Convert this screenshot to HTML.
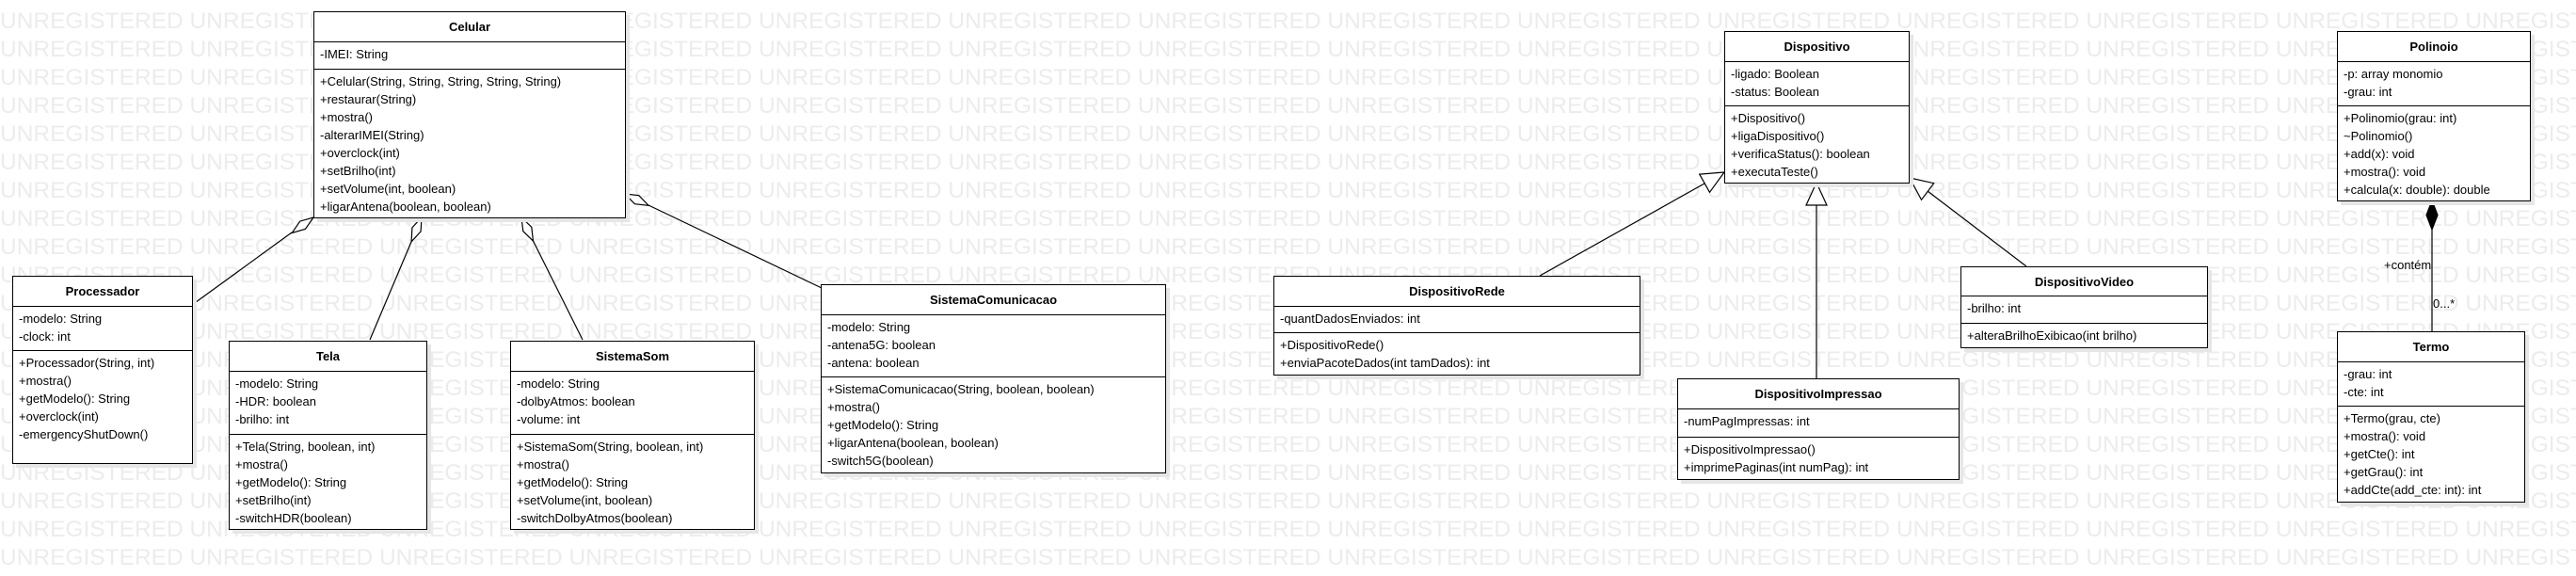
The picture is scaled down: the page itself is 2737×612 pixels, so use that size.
<!DOCTYPE html>
<html><head><meta charset="utf-8"><style>
body{margin:0;width:2737px;height:612px;position:relative;background:#fff;overflow:hidden;font-family:"Liberation Sans",Arial,sans-serif;}
svg{position:absolute;left:0;top:0}
.b{position:absolute;background:#fff;border:1px solid #000;box-shadow:4px 4px 0 #e6e6e6;box-sizing:border-box;font-size:13px;color:#000}
.h{font-weight:bold;text-align:center;border-bottom:1px solid #000;box-sizing:border-box;display:flex;align-items:center;justify-content:center}
.c{padding:3px 0 0 6px;line-height:19px;white-space:nowrap;box-sizing:border-box}
.a{border-bottom:1px solid #000}
</style></head><body>
<svg width="2737" height="612">
<g font-family="Liberation Sans, Arial, sans-serif" font-size="24" fill="#ececec">
<text x="0" y="30" textLength="2814" lengthAdjust="spacingAndGlyphs">UNREGISTERED UNREGISTERED UNREGISTERED UNREGISTERED UNREGISTERED UNREGISTERED UNREGISTERED UNREGISTERED UNREGISTERED UNREGISTERED UNREGISTERED UNREGISTERED UNREGISTERED UNREGISTERED </text>
<text x="0" y="60" textLength="2814" lengthAdjust="spacingAndGlyphs">UNREGISTERED UNREGISTERED UNREGISTERED UNREGISTERED UNREGISTERED UNREGISTERED UNREGISTERED UNREGISTERED UNREGISTERED UNREGISTERED UNREGISTERED UNREGISTERED UNREGISTERED UNREGISTERED </text>
<text x="0" y="90" textLength="2814" lengthAdjust="spacingAndGlyphs">UNREGISTERED UNREGISTERED UNREGISTERED UNREGISTERED UNREGISTERED UNREGISTERED UNREGISTERED UNREGISTERED UNREGISTERED UNREGISTERED UNREGISTERED UNREGISTERED UNREGISTERED UNREGISTERED </text>
<text x="0" y="120" textLength="2814" lengthAdjust="spacingAndGlyphs">UNREGISTERED UNREGISTERED UNREGISTERED UNREGISTERED UNREGISTERED UNREGISTERED UNREGISTERED UNREGISTERED UNREGISTERED UNREGISTERED UNREGISTERED UNREGISTERED UNREGISTERED UNREGISTERED </text>
<text x="0" y="150" textLength="2814" lengthAdjust="spacingAndGlyphs">UNREGISTERED UNREGISTERED UNREGISTERED UNREGISTERED UNREGISTERED UNREGISTERED UNREGISTERED UNREGISTERED UNREGISTERED UNREGISTERED UNREGISTERED UNREGISTERED UNREGISTERED UNREGISTERED </text>
<text x="0" y="180" textLength="2814" lengthAdjust="spacingAndGlyphs">UNREGISTERED UNREGISTERED UNREGISTERED UNREGISTERED UNREGISTERED UNREGISTERED UNREGISTERED UNREGISTERED UNREGISTERED UNREGISTERED UNREGISTERED UNREGISTERED UNREGISTERED UNREGISTERED </text>
<text x="0" y="210" textLength="2814" lengthAdjust="spacingAndGlyphs">UNREGISTERED UNREGISTERED UNREGISTERED UNREGISTERED UNREGISTERED UNREGISTERED UNREGISTERED UNREGISTERED UNREGISTERED UNREGISTERED UNREGISTERED UNREGISTERED UNREGISTERED UNREGISTERED </text>
<text x="0" y="240" textLength="2814" lengthAdjust="spacingAndGlyphs">UNREGISTERED UNREGISTERED UNREGISTERED UNREGISTERED UNREGISTERED UNREGISTERED UNREGISTERED UNREGISTERED UNREGISTERED UNREGISTERED UNREGISTERED UNREGISTERED UNREGISTERED UNREGISTERED </text>
<text x="0" y="270" textLength="2814" lengthAdjust="spacingAndGlyphs">UNREGISTERED UNREGISTERED UNREGISTERED UNREGISTERED UNREGISTERED UNREGISTERED UNREGISTERED UNREGISTERED UNREGISTERED UNREGISTERED UNREGISTERED UNREGISTERED UNREGISTERED UNREGISTERED </text>
<text x="0" y="300" textLength="2814" lengthAdjust="spacingAndGlyphs">UNREGISTERED UNREGISTERED UNREGISTERED UNREGISTERED UNREGISTERED UNREGISTERED UNREGISTERED UNREGISTERED UNREGISTERED UNREGISTERED UNREGISTERED UNREGISTERED UNREGISTERED UNREGISTERED </text>
<text x="0" y="330" textLength="2814" lengthAdjust="spacingAndGlyphs">UNREGISTERED UNREGISTERED UNREGISTERED UNREGISTERED UNREGISTERED UNREGISTERED UNREGISTERED UNREGISTERED UNREGISTERED UNREGISTERED UNREGISTERED UNREGISTERED UNREGISTERED UNREGISTERED </text>
<text x="0" y="360" textLength="2814" lengthAdjust="spacingAndGlyphs">UNREGISTERED UNREGISTERED UNREGISTERED UNREGISTERED UNREGISTERED UNREGISTERED UNREGISTERED UNREGISTERED UNREGISTERED UNREGISTERED UNREGISTERED UNREGISTERED UNREGISTERED UNREGISTERED </text>
<text x="0" y="390" textLength="2814" lengthAdjust="spacingAndGlyphs">UNREGISTERED UNREGISTERED UNREGISTERED UNREGISTERED UNREGISTERED UNREGISTERED UNREGISTERED UNREGISTERED UNREGISTERED UNREGISTERED UNREGISTERED UNREGISTERED UNREGISTERED UNREGISTERED </text>
<text x="0" y="420" textLength="2814" lengthAdjust="spacingAndGlyphs">UNREGISTERED UNREGISTERED UNREGISTERED UNREGISTERED UNREGISTERED UNREGISTERED UNREGISTERED UNREGISTERED UNREGISTERED UNREGISTERED UNREGISTERED UNREGISTERED UNREGISTERED UNREGISTERED </text>
<text x="0" y="450" textLength="2814" lengthAdjust="spacingAndGlyphs">UNREGISTERED UNREGISTERED UNREGISTERED UNREGISTERED UNREGISTERED UNREGISTERED UNREGISTERED UNREGISTERED UNREGISTERED UNREGISTERED UNREGISTERED UNREGISTERED UNREGISTERED UNREGISTERED </text>
<text x="0" y="480" textLength="2814" lengthAdjust="spacingAndGlyphs">UNREGISTERED UNREGISTERED UNREGISTERED UNREGISTERED UNREGISTERED UNREGISTERED UNREGISTERED UNREGISTERED UNREGISTERED UNREGISTERED UNREGISTERED UNREGISTERED UNREGISTERED UNREGISTERED </text>
<text x="0" y="510" textLength="2814" lengthAdjust="spacingAndGlyphs">UNREGISTERED UNREGISTERED UNREGISTERED UNREGISTERED UNREGISTERED UNREGISTERED UNREGISTERED UNREGISTERED UNREGISTERED UNREGISTERED UNREGISTERED UNREGISTERED UNREGISTERED UNREGISTERED </text>
<text x="0" y="540" textLength="2814" lengthAdjust="spacingAndGlyphs">UNREGISTERED UNREGISTERED UNREGISTERED UNREGISTERED UNREGISTERED UNREGISTERED UNREGISTERED UNREGISTERED UNREGISTERED UNREGISTERED UNREGISTERED UNREGISTERED UNREGISTERED UNREGISTERED </text>
<text x="0" y="570" textLength="2814" lengthAdjust="spacingAndGlyphs">UNREGISTERED UNREGISTERED UNREGISTERED UNREGISTERED UNREGISTERED UNREGISTERED UNREGISTERED UNREGISTERED UNREGISTERED UNREGISTERED UNREGISTERED UNREGISTERED UNREGISTERED UNREGISTERED </text>
<text x="0" y="600" textLength="2814" lengthAdjust="spacingAndGlyphs">UNREGISTERED UNREGISTERED UNREGISTERED UNREGISTERED UNREGISTERED UNREGISTERED UNREGISTERED UNREGISTERED UNREGISTERED UNREGISTERED UNREGISTERED UNREGISTERED UNREGISTERED UNREGISTERED </text>
</g>
<g stroke="#000" stroke-width="1.2" fill="#fff">
<line x1="204" y1="324" x2="310" y2="247"/>
<polygon points="333,231 324.5,243.3 310.3,247.4 318.7,235.1"/>
<line x1="393" y1="361" x2="437" y2="257"/>
<polygon points="448,231 447.1,245.9 437.1,256.8 437.9,241.9"/>
<line x1="619" y1="361" x2="566.5" y2="256"/>
<polygon points="554,231 564.8,241.3 566.5,256.1 555.8,245.7"/>
<line x1="873" y1="306" x2="689" y2="218"/>
<polygon points="664,206 678.8,207.7 689.1,218.3 674.4,216.7"/>
<line x1="1636" y1="293" x2="1811" y2="195"/>
<polygon points="1832,183 1816.5,204.3 1805.7,185.1"/>
<line x1="1930" y1="402" x2="1930" y2="218"/>
<polygon points="1930,194 1941,218 1919,218"/>
<line x1="2153" y1="283" x2="2048" y2="203"/>
<polygon points="2029,189 2054.7,194.7 2041.5,212.3"/>
<line x1="2584" y1="244" x2="2584" y2="352"/>
<polygon points="2584,213 2590,228.5 2584,244 2578,228.5" fill="#000"/>
</g>
<g font-family="Liberation Sans, Arial, sans-serif" font-size="13" fill="#000">
<text x="2533" y="286">+contém</text>
<text x="2585" y="327">0...*</text>
</g>
</svg>

<div class="b" style="left:333px;top:12px;width:332px;height:220px">
<div class="h" style="height:32px">Celular</div>
<div class="c a" style="height:29px">-IMEI: String</div>
<div class="c">+Celular(String, String, String, String, String)<br>+restaurar(String)<br>+mostra()<br>-alterarIMEI(String)<br>+overclock(int)<br>+setBrilho(int)<br>+setVolume(int, boolean)<br>+ligarAntena(boolean, boolean)</div>
</div>

<div class="b" style="left:13px;top:293px;width:192px;height:200px">
<div class="h" style="height:32px">Processador</div>
<div class="c a" style="height:47px">-modelo: String<br>-clock: int</div>
<div class="c">+Processador(String, int)<br>+mostra()<br>+getModelo(): String<br>+overclock(int)<br>-emergencyShutDown()</div>
</div>

<div class="b" style="left:243px;top:362px;width:211px;height:201px">
<div class="h" style="height:32px">Tela</div>
<div class="c a" style="height:67px">-modelo: String<br>-HDR: boolean<br>-brilho: int</div>
<div class="c">+Tela(String, boolean, int)<br>+mostra()<br>+getModelo(): String<br>+setBrilho(int)<br>-switchHDR(boolean)</div>
</div>

<div class="b" style="left:542px;top:362px;width:260px;height:201px">
<div class="h" style="height:32px">SistemaSom</div>
<div class="c a" style="height:67px">-modelo: String<br>-dolbyAtmos: boolean<br>-volume: int</div>
<div class="c">+SistemaSom(String, boolean, int)<br>+mostra()<br>+getModelo(): String<br>+setVolume(int, boolean)<br>-switchDolbyAtmos(boolean)</div>
</div>

<div class="b" style="left:872px;top:302px;width:367px;height:201px">
<div class="h" style="height:32px">SistemaComunicacao</div>
<div class="c a" style="height:66px">-modelo: String<br>-antena5G: boolean<br>-antena: boolean</div>
<div class="c">+SistemaComunicacao(String, boolean, boolean)<br>+mostra()<br>+getModelo(): String<br>+ligarAntena(boolean, boolean)<br>-switch5G(boolean)</div>
</div>

<div class="b" style="left:1353px;top:293px;width:390px;height:106px">
<div class="h" style="height:32px">DispositivoRede</div>
<div class="c a" style="height:28px">-quantDadosEnviados: int</div>
<div class="c">+DispositivoRede()<br>+enviaPacoteDados(int tamDados): int</div>
</div>

<div class="b" style="left:1832px;top:33px;width:197px;height:162px">
<div class="h" style="height:32px">Dispositivo</div>
<div class="c a" style="height:47px">-ligado: Boolean<br>-status: Boolean</div>
<div class="c">+Dispositivo()<br>+ligaDispositivo()<br>+verificaStatus(): boolean<br>+executaTeste()</div>
</div>

<div class="b" style="left:1782px;top:402px;width:300px;height:108px">
<div class="h" style="height:32px">DispositivoImpressao</div>
<div class="c a" style="height:30px">-numPagImpressas: int</div>
<div class="c">+DispositivoImpressao()<br>+imprimePaginas(int numPag): int</div>
</div>

<div class="b" style="left:2083px;top:283px;width:263px;height:87px">
<div class="h" style="height:31px">DispositivoVideo</div>
<div class="c a" style="height:29px">-brilho: int</div>
<div class="c">+alteraBrilhoExibicao(int brilho)</div>
</div>

<div class="b" style="left:2483px;top:33px;width:206px;height:181px">
<div class="h" style="height:32px">Polinoio</div>
<div class="c a" style="height:47px">-p: array monomio<br>-grau: int</div>
<div class="c">+Polinomio(grau: int)<br>~Polinomio()<br>+add(x): void<br>+mostra(): void<br>+calcula(x: double): double</div>
</div>

<div class="b" style="left:2483px;top:352px;width:200px;height:182px">
<div class="h" style="height:32px">Termo</div>
<div class="c a" style="height:47px">-grau: int<br>-cte: int</div>
<div class="c">+Termo(grau, cte)<br>+mostra(): void<br>+getCte(): int<br>+getGrau(): int<br>+addCte(add_cte: int): int</div>
</div>
</body></html>
